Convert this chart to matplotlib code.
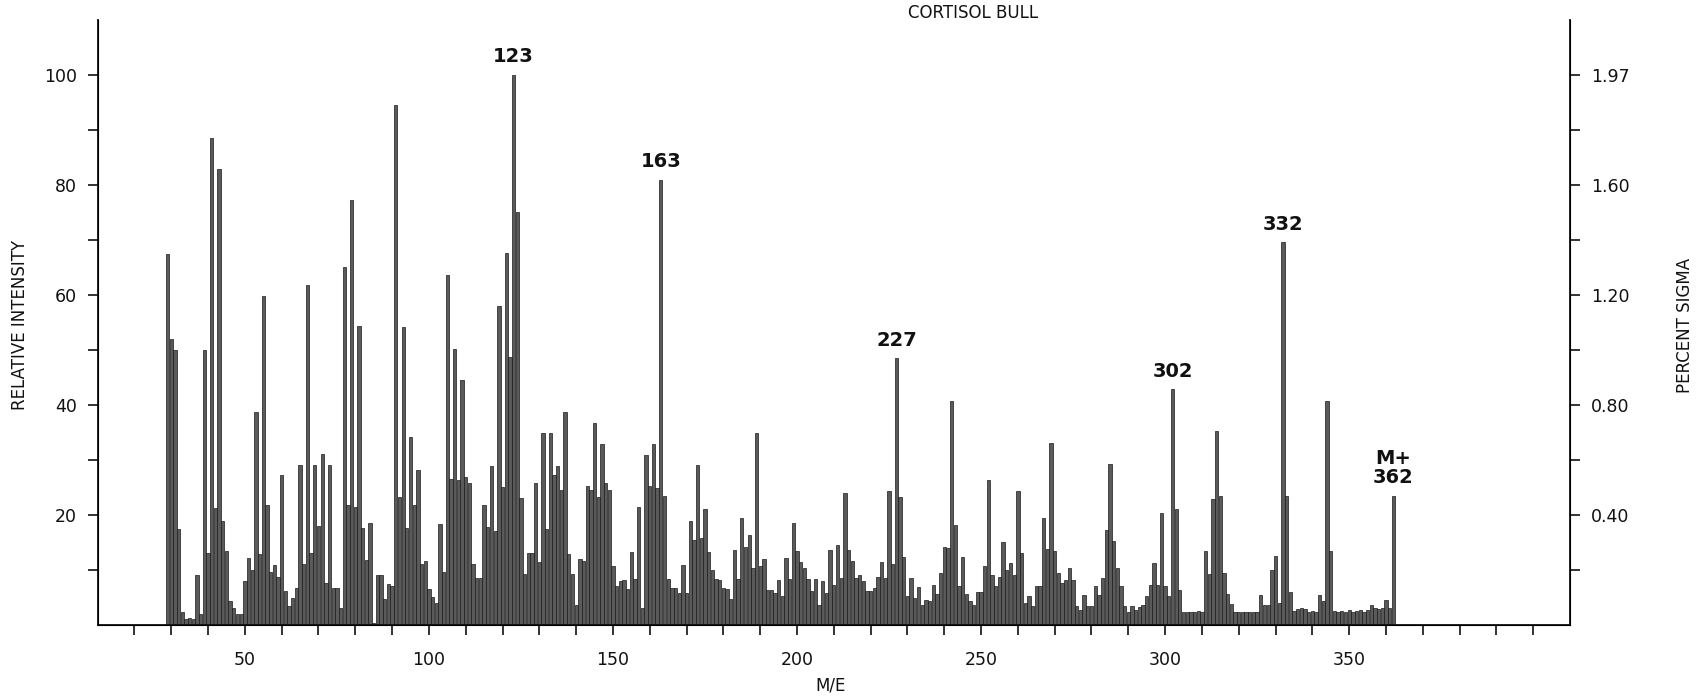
# -*- coding: utf-8 -*-
# cortisol_ms.py - mass spectrum bar chart

import numpy as np
import matplotlib
matplotlib.use("Agg")
import matplotlib.pyplot as plt

# m/z values 29..362 (one bar per integer mass)
mz = list(range(29, 363))

# relative intensities, 10 values per row
intensity = [
    67.4, 52, 50, 17.5, 2.3, 1, 1.3, 1, 9, 2,            # 29-38
    50, 13, 88.5, 21.3, 82.9, 18.8, 13.4, 4.4, 3, 1.9,   # 39-48
    1.9, 7.9, 12.2, 10, 38.6, 12.8, 59.8, 21.8, 9.7, 10.9,  # 49-58
    8.7, 27.2, 6.2, 3.4, 4.8, 6.7, 29, 11, 61.7, 13,     # 59-68
    29, 18, 31, 7.7, 29, 6.7, 6.7, 3, 65, 21.8,          # 69-78
    77.2, 21.5, 54.4, 17.6, 11.8, 18.6, 0.3, 9, 9, 4.7,  # 79-88
    7.4, 7, 94.4, 23.2, 54.2, 17.7, 34.2, 21.8, 28.2, 11,  # 89-98
    11.6, 6.5, 5, 4, 18.3, 9.7, 63.6, 26.5, 50.1, 26.4,  # 99-108
    44.5, 26.8, 25.7, 11, 8.5, 8.5, 21.8, 17.8, 28.9, 17,  # 109-118
    58, 25, 67.6, 48.7, 100, 75, 23, 9.2, 13, 13,        # 119-128
    25.8, 11.4, 34.9, 17.4, 34.9, 27.2, 28.9, 24.5, 38.7, 12.8,  # 129-138
    9.2, 3.7, 12, 11.7, 25.3, 24.5, 36.7, 23.2, 32.9, 25.8,  # 139-148
    24.5, 10.7, 7, 8, 8.2, 6.5, 13.2, 8.4, 21.5, 3,      # 149-158
    30.9, 25.2, 32.9, 24.8, 80.9, 23.5, 8.4, 6.7, 6.7, 5.8,  # 159-168
    10.9, 5.8, 18.8, 15.4, 29.1, 15.8, 21.1, 13.2, 9.9, 8.3,  # 169-178
    8.1, 6.7, 6.5, 4.7, 13.6, 8.4, 19.5, 14.1, 16.4, 10.4,  # 179-188
    34.9, 10.7, 11.9, 6.4, 6.4, 5.8, 8.1, 5.2, 12.1, 8.4,  # 189-198
    18.6, 13.4, 11.4, 10.3, 8.4, 6.2, 8.3, 3.7, 7.9, 5.8,  # 199-208
    13.6, 7.2, 14.6, 8.5, 24, 13.6, 11.7, 8.5, 9.1, 7.9,  # 209-218
    6.2, 6.2, 6.7, 8.7, 11.4, 8.5, 24.4, 11.1, 48.5, 23.2,  # 219-228
    12.4, 5.2, 8.5, 4.9, 6.9, 3.7, 4.6, 4.4, 7.2, 5.7,   # 229-238
    9.4, 14.1, 13.9, 40.7, 18.1, 7, 12.4, 5.7, 4.4, 3.6,  # 239-248
    6, 6, 10.7, 26.4, 9.1, 7, 8.7, 15.1, 9.9, 11.2,      # 249-258
    9.1, 24.4, 13.1, 4, 5.2, 3.4, 7, 7, 19.5, 13.8,      # 259-268
    33.1, 13.4, 9.5, 7.7, 8.1, 10.4, 8.1, 3.4, 2.7, 5.4,  # 269-278
    3.5, 3.5, 7, 5.4, 8.5, 17.2, 29.2, 15.2, 10.4, 7,    # 279-288
    3.4, 2.3, 3.4, 2.7, 3.2, 3.7, 5.2, 7.2, 11.2, 7.2,   # 289-298
    20.3, 7, 5.2, 42.8, 21, 6.4, 2.3, 2.3, 2.3, 2.3,     # 299-308
    2.6, 2.3, 13.4, 9.2, 22.8, 35.2, 23.5, 9.4, 5.7, 3.8,  # 309-318
    2.3, 2.3, 2.3, 2.3, 2.3, 2.3, 2.3, 5.4, 3.6, 3.6,    # 319-328
    9.9, 12.6, 4, 69.5, 23.5, 6, 2.5, 2.8, 3, 2.8,       # 329-338
    2.3, 2.5, 2.3, 5.4, 4.4, 40.7, 13.4, 2.5, 2.3, 2.6,  # 339-348
    2.3, 2.7, 2.3, 2.5, 2.7, 2.3, 2.7, 3.7, 3, 2.9,      # 349-358
    3, 4.6, 3, 23.5,                                      # 359-362
]

# annotated peaks
peak_mz = [123, 163, 227, 302, 332, 362]
peak_text = ["123", "163", "227", "302", "332", "M+\n362"]

# right axis (percent sigma) labels
sigma_pos = [20, 40, 60, 80, 100]
sigma_labels = ["0.40", "0.80", "1.20", "1.60", "1.97"]

x_major = [50, 100, 150, 200, 250, 300, 350]
y_major = [20, 40, 60, 80, 100]

plt.rcParams['font.family'] = ['DejaVu Sans']

fig = plt.figure(figsize=(17.01, 6.99), dpi=100)
ax = fig.add_axes([0.0574, 0.106, 0.8656, 0.866])

ax.bar(mz, intensity, width=0.9, color='#5a5a5a', edgecolor='#1a1a1a', linewidth=0.5)

ax.set_xlim(10, 410)
ax.set_ylim(0, 110)
ax.spines['top'].set_visible(False)
for s in ['left', 'right', 'bottom']:
    ax.spines[s].set_linewidth(1.3)
    ax.spines[s].set_color('#111111')

ax.set_xticks(x_major)
ax.set_xticks(range(20, 410, 10), minor=True)
ax.set_yticks(y_major)
ax.set_yticks(range(10, 110, 10), minor=True)
ax.tick_params(axis='both', which='both', direction='out', color='#111111', width=1.2)
ax.tick_params(axis='both', which='major', length=7, labelsize=12.5, pad=12, labelcolor='#111111')
ax.tick_params(axis='both', which='minor', length=7)
ax.tick_params(axis='y', which='major', pad=8)

ax2 = ax.twinx()
ax2.set_ylim(0, 110)
ax2.set_yticks(sigma_pos)
ax2.set_yticklabels(sigma_labels)
ax2.set_yticks(range(10, 110, 10), minor=True)
ax2.spines['top'].set_visible(False)
ax2.tick_params(axis='y', which='both', direction='out', length=7, width=1.2,
                labelsize=12.5, pad=8, color='#111111', labelcolor='#111111')

# peak labels
for m, t in zip(peak_mz, peak_text):
    v = intensity[mz.index(m)]
    ax.text(m, v + 1.5, t, ha='center', va='bottom', fontsize=14,
            fontweight='bold', linespacing=1.0, color='#111111')

fig.text(0.572, 0.982, "CORTISOL BULL", ha='center', va='center', fontsize=12,
         fontweight='medium', color='#111111')
fig.text(0.0115, 0.535, "RELATIVE INTENSITY", rotation=90, ha='center', va='center',
         fontsize=12, color='#111111')
fig.text(0.9905, 0.535, "PERCENT SIGMA", rotation=90, ha='center', va='center',
         fontsize=12, color='#111111')
fig.text(0.488, 0.019, "M/E", ha='center', va='center', fontsize=12, color='#111111')

fig.savefig("out.png", dpi=100, facecolor='white')
